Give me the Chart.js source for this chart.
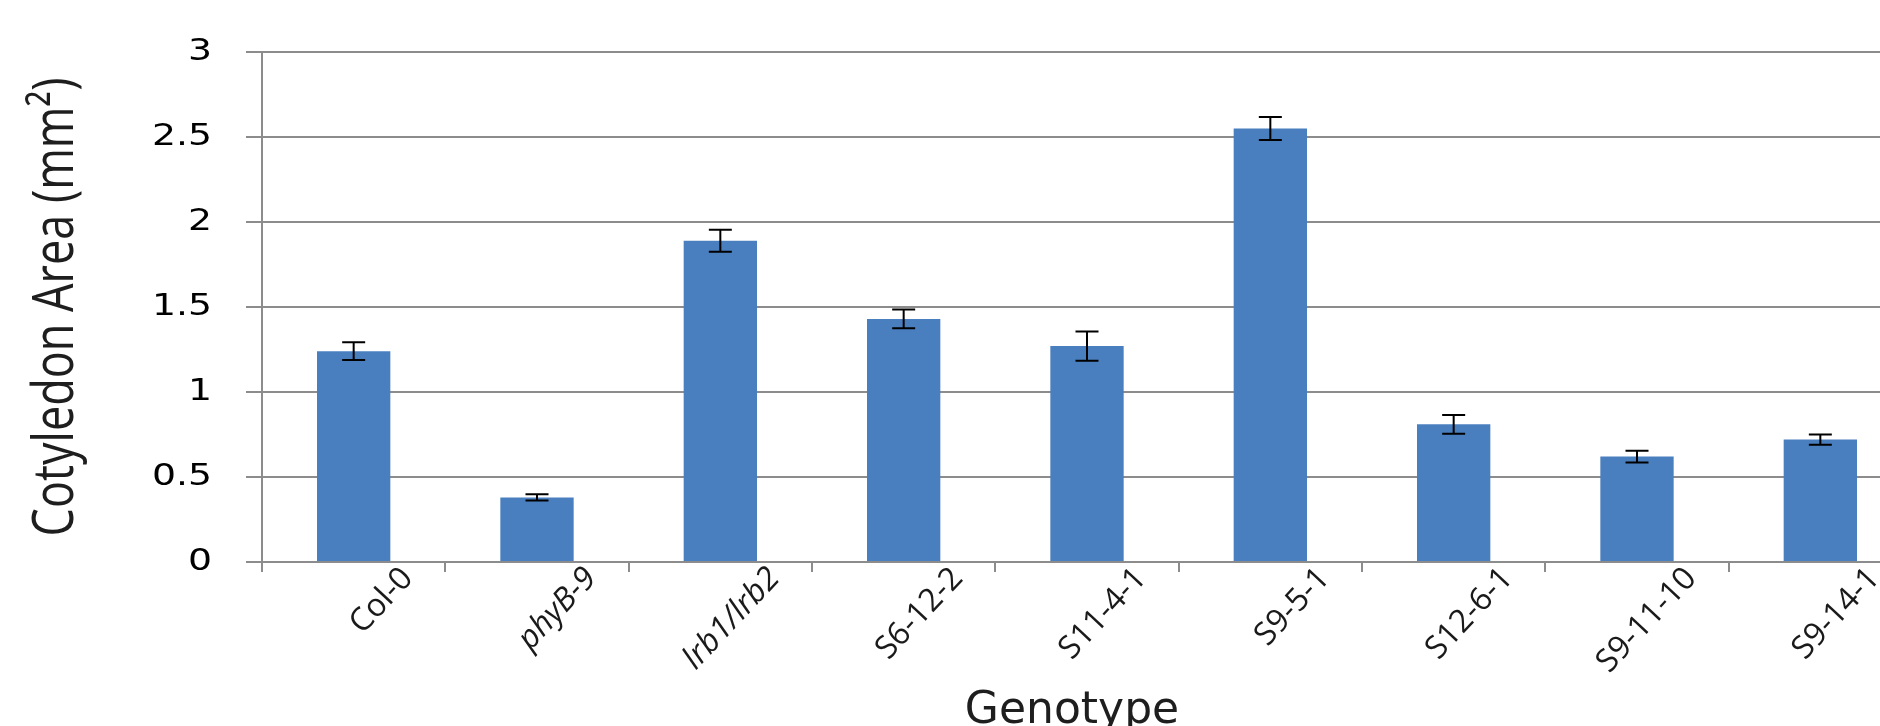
<!DOCTYPE html>
<html>
<head>
<meta charset="utf-8">
<script src="https://cdn.jsdelivr.net/npm/chart.js@4.4.1/dist/chart.umd.min.js"></script>
<style>
  html, body { margin: 0; padding: 0; background: #fff; overflow: hidden; }
  #wrap { width: 1940px; height: 726px; position: relative; }
</style>
</head>
<body>
<div id="wrap"><canvas id="myChart"></canvas></div>
<script>
// chart data
const genotypes = ['Col-0', 'phyB-9', 'lrb1/lrb2', 'S6-12-2', 'S11-4-1', 'S9-5-1', 'S12-6-1', 'S9-11-10', 'S9-14-1'];
const cotyledonArea = [1.24, 0.38, 1.89, 1.43, 1.27, 2.55, 0.81, 0.62, 0.72];
const areaError = [0.052, 0.018, 0.065, 0.055, 0.086, 0.068, 0.055, 0.035, 0.03];
const italicLabels = ['phyB-9', 'lrb1/lrb2'];
const yTicks = [0, 0.5, 1, 1.5, 2, 2.5, 3];

const gridGray = '#8c8c8c';

// error bars drawn on top of the bars
const errorBars = {
    id: 'errorBars',
    afterDatasetsDraw(chart) {
        const ctx = chart.ctx;
        const y = chart.scales.y;
        chart.getDatasetMeta(0).data.forEach(function (bar, i) {
            const top = y.getPixelForValue(cotyledonArea[i] + areaError[i]);
            const bottom = y.getPixelForValue(cotyledonArea[i] - areaError[i]);
            ctx.save();
            ctx.strokeStyle = '#000';
            ctx.lineWidth = 2;
            ctx.beginPath();
            ctx.moveTo(bar.x, top);
            ctx.lineTo(bar.x, bottom);
            ctx.moveTo(bar.x - 11.5, top);
            ctx.lineTo(bar.x + 11.5, top);
            ctx.moveTo(bar.x - 11.5, bottom);
            ctx.lineTo(bar.x + 11.5, bottom);
            ctx.stroke();
            ctx.restore();
        });
    }
};

// the picture is drawn a bit wide: stretch the y numbers and the y title sideways,
// and nudge the x texts into place
const textTweaks = {
    id: 'textTweaks',
    afterUpdate(chart) {
        const scale = chart.scales.y;
        if (scale._tweaked) return;
        const drawLabels = scale.drawLabels;
        const drawTitle = scale.drawTitle;
        scale.drawLabels = function (area) {
            const ctx = this.ctx;
            const xr = this.right - this.options.grid.tickLength - this.options.ticks.padding;
            ctx.save();
            ctx.translate(xr, 0);
            ctx.scale(1.26, 1);
            ctx.translate(-xr, 0);
            drawLabels.call(this, area);
            ctx.restore();
        };
        scale.drawTitle = function () {
            const ctx = this.ctx;
            const t = this.options.title;
            const cx = this.left + t.padding.top + t.font.size * t.font.lineHeight / 2;
            ctx.save();
            ctx.translate(cx, 0);
            ctx.scale(1.25, 1);
            ctx.translate(-cx, 0);
            drawTitle.call(this);
            ctx.restore();
        };
        const xs = chart.scales.x;
        const drawXTitle = xs.drawTitle;
        const drawXLabels = xs.drawLabels;
        xs.drawTitle = function () {
            const ctx = this.ctx;
            ctx.save();
            ctx.translate(-15, 0);
            drawXTitle.call(this);
            ctx.restore();
        };
        xs.drawLabels = function (area) {
            const ctx = this.ctx;
            ctx.save();
            ctx.translate(-6, -20);
            drawXLabels.call(this, area);
            ctx.restore();
        };
        scale._tweaked = true;
    }
};

let ctx = document.getElementById('myChart').getContext('2d');

let chart = new Chart(ctx, {
    type: 'bar',
    data: {
        labels: genotypes,
        datasets: [{
            data: cotyledonArea,
            backgroundColor: '#4a7fbf',
            borderWidth: 0,
            barPercentage: 0.4,
            categoryPercentage: 1.0
        }]
    },
    options: {
        responsive: true,
        maintainAspectRatio: false,
        animation: false,
        layout: { padding: { top: 50, right: 28, bottom: 0, left: 0 } },
        plugins: {
            legend: { display: false },
            tooltip: { enabled: false }
        },
        scales: {
            x: {
                afterFit: function (scale) { scale.height = 164; },
                grid: {
                    drawOnChartArea: false,
                    drawTicks: true,
                    tickLength: 10,
                    color: gridGray,
                    lineWidth: 2
                },
                border: { color: gridGray, width: 2 },
                ticks: {
                    minRotation: 47,
                    maxRotation: 47,
                    autoSkip: false,
                    labelOffset: 60,
                    padding: 8,
                    color: '#1a1a1a',
                    font: function (c) {
                        return {
                            family: 'Open Sans',
                            size: 32,
                            style: italicLabels.indexOf(genotypes[c.index]) >= 0 ? 'italic' : 'normal'
                        };
                    }
                },
                title: {
                    display: true,
                    text: 'Genotype',
                    color: '#1e1e1e',
                    font: { family: 'DejaVu Sans', size: 44, lineHeight: 0.64 },
                    padding: { top: 0, bottom: 0 }
                }
            },
            y: {
                min: 0,
                max: 3,
                afterFit: function (scale) { scale.width = 262; },
                afterBuildTicks: function (scale) {
                    scale.ticks = yTicks.map(v => ({ value: v }));
                },
                grid: {
                    color: gridGray,
                    lineWidth: 2,
                    drawTicks: true,
                    tickLength: 16
                },
                border: { color: gridGray, width: 2 },
                ticks: {
                    padding: 34,
                    color: '#000',
                    font: { family: 'DejaVu Sans', size: 30 },
                    callback: function (v) { return String(v); }
                },
                title: {
                    display: true,
                    text: 'Cotyledon Area (mm²)',
                    color: '#1e1e1e',
                    font: { family: 'Open Sans', size: 45, lineHeight: 1.2 },
                    padding: { top: 30, bottom: 0 }
                }
            }
        }
    },
    plugins: [errorBars, textTweaks]
});
</script>
</body>
</html>
